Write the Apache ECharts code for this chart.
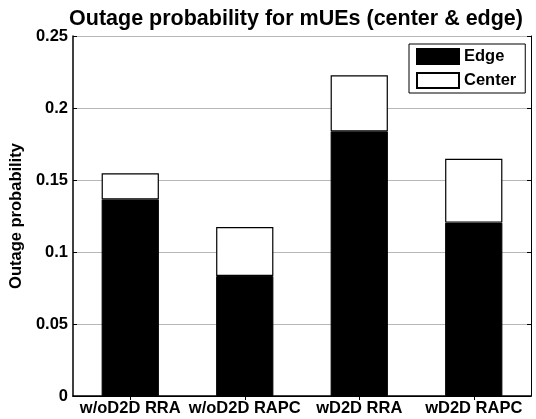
<!DOCTYPE html>
<html>
<head>
<meta charset="utf-8">
<script src="https://cdn.jsdelivr.net/npm/echarts@6/dist/echarts.min.js"></script>
<style>html,body{margin:0;padding:0;background:#fff;}#c{width:536px;height:419px;}</style>
</head>
<body>
<div id="c"></div>
<script>
const categories = ['w/oD2D RRA', 'w/oD2D RAPC', 'wD2D RRA', 'wD2D RAPC'];
const edgeValues = [0.1365, 0.0833, 0.1838, 0.1204];
const centerValues = [0.0182, 0.0341, 0.0389, 0.0444];
const yTicks = [0, 0.05, 0.1, 0.15, 0.2, 0.25];

const F = 'Liberation Sans, Arial, sans-serif';
const chart = echarts.init(document.getElementById('c'), null, {renderer: 'canvas'});
chart.setOption({
  animation: false,
  backgroundColor: '#fff',
  title: {
    text: 'Outage probability for mUEs (center & edge)',
    left: 291, top: 3, textAlign: 'center',
    textStyle: {fontFamily: F, fontWeight: 'bold', fontSize: 21.5, color: '#000'}
  },
  legend: {
    data: ['Edge', 'Center'],
    orient: 'vertical',
    left: 409, top: 44,
    itemWidth: 42, itemHeight: 15, itemGap: 7,
    padding: [4, 9, 4, 7],
    borderColor: '#000', borderWidth: 1,
    backgroundColor: '#fff',
    icon: 'rect',
    textStyle: {fontFamily: F, fontWeight: 'bold', fontSize: 16.5, color: '#000'}
  },
  grid: {left: 71, top: 36, right: 5, bottom: 23, containLabel: false},
  xAxis: [{
    type: 'category', data: categories,
    axisLine: {show: true, lineStyle: {color: '#000', width: 1.5}},
    axisTick: {show: false},
    axisLabel: {fontFamily: F, fontWeight: 'bold', fontSize: 16.5, color: '#000', margin: 4, interval: 0},
    splitLine: {show: false}
  }, {
    type: 'category', data: categories, position: 'top',
    axisLine: {show: true, lineStyle: {color: '#000', width: 1}},
    axisTick: {show: true, inside: true, alignWithLabel: true, length: 4, lineStyle: {color: '#000'}},
    axisLabel: {show: false}
  }],
  yAxis: [{
    type: 'value', min: 0, max: 0.25, interval: 0.05,
    name: 'Outage probability', nameLocation: 'middle', nameGap: 45,
    nameTextStyle: {fontFamily: F, fontWeight: 'bold', fontSize: 16.5, color: '#000'},
    axisLine: {show: true, lineStyle: {color: '#000', width: 1.5}},
    axisTick: {show: true, inside: true, length: 4, lineStyle: {color: '#000'}},
    axisLabel: {fontFamily: F, fontWeight: 'bold', fontSize: 16.5, color: '#000', margin: 5,
      formatter: v => { const t = yTicks.find(x => Math.abs(x - v) < 1e-9); return String(+(t ?? v).toFixed(2)); }},
    splitLine: {show: true, lineStyle: {color: '#b8b8b8', width: 1}}
  }, {
    type: 'value', min: 0, max: 0.25, interval: 0.05, position: 'right',
    axisLine: {show: true, lineStyle: {color: '#000', width: 1}},
    axisTick: {show: true, inside: true, length: 4, lineStyle: {color: '#000'}},
    axisLabel: {show: false},
    splitLine: {show: false}
  }],
  series: [{
    name: 'Edge', type: 'bar', stack: 'total', data: edgeValues, barWidth: '50%',
    itemStyle: {color: '#000', borderColor: '#000', borderWidth: 1}
  }, {
    name: 'Center', type: 'bar', stack: 'total', data: centerValues, barWidth: '50%',
    itemStyle: {color: '#fff', borderColor: '#000', borderWidth: 1.2}
  }]
});
</script>
</body>
</html>
